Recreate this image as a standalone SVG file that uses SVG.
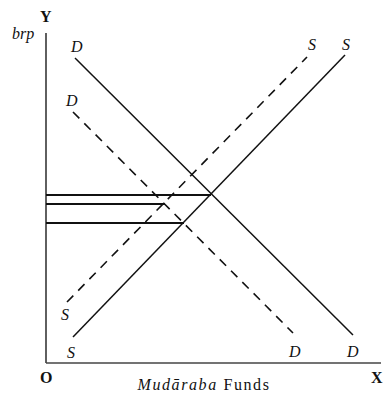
<svg xmlns="http://www.w3.org/2000/svg" width="385" height="395" viewBox="0 0 385 395">
<style>
.ax{stroke:#444;stroke-width:1.7;fill:none}
.ln{stroke:#111;stroke-width:1.5;fill:none}
.ds{stroke:#111;stroke-width:1.6;fill:none;stroke-dasharray:9 7}
.hz{stroke:#111;stroke-width:2.2;fill:none}
.lb{font-family:"Liberation Serif",serif;font-style:italic;font-size:16px;fill:#111}
.bd{font-family:"Liberation Serif",serif;font-weight:bold;font-size:16px;fill:#111}
.tx{font-family:"Liberation Serif",serif;font-size:16px;letter-spacing:1.6px;fill:#111}
</style>
<rect width="385" height="395" fill="#fff"/>
<g id="axes">
<line class="ax" x1="46" y1="33" x2="46" y2="363"/>
<line class="ax" x1="46" y1="363" x2="381" y2="363"/>
<text class="bd" x="40" y="22">Y</text>
<text class="lb" x="12" y="39" font-size="15">brp</text>
<text class="bd" x="40" y="383">O</text>
<text class="bd" x="371" y="383">X</text>
<text class="tx" x="204" y="390" text-anchor="middle"><tspan font-style="italic">Mudāraba</tspan> Funds</text>
</g>
<g id="connectors">
<line class="ln" x1="75" y1="58" x2="353" y2="335"/>
<line class="ds" x1="73" y1="112" x2="293" y2="333"/>
<line class="ln" x1="73" y1="337" x2="345" y2="55"/>
<line class="ds" x1="67" y1="302" x2="307" y2="57"/>
<line class="hz" x1="46" y1="195" x2="211" y2="195"/>
<line class="hz" x1="46" y1="204" x2="165" y2="204"/>
<line class="hz" x1="46" y1="223" x2="184" y2="223"/>
</g>
<g id="labels">
<text class="lb" x="71" y="52">D</text>
<text class="lb" x="66" y="106">D</text>
<text class="lb" x="289" y="357">D</text>
<text class="lb" x="347" y="357">D</text>
<text class="lb" x="308" y="50">S</text>
<text class="lb" x="342" y="50">S</text>
<text class="lb" x="61" y="320">S</text>
<text class="lb" x="67" y="358">S</text>
</g>
</svg>
